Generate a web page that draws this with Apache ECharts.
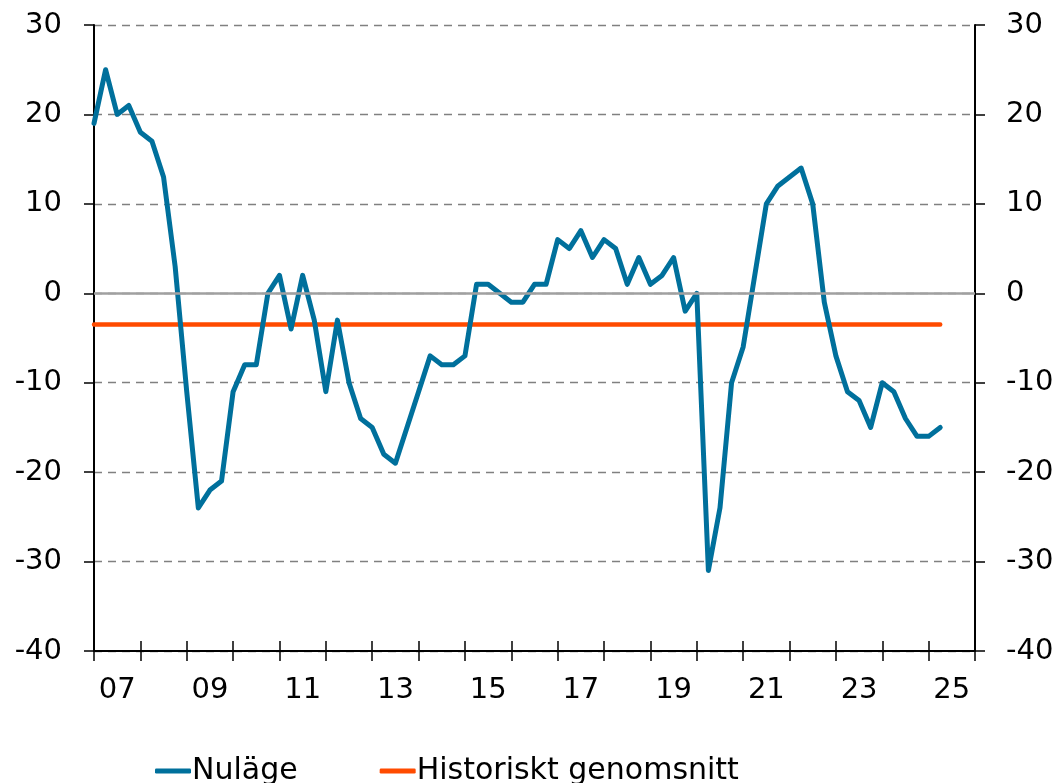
<!DOCTYPE html>
<html>
<head>
<meta charset="utf-8">
<script src="https://cdn.jsdelivr.net/npm/echarts@6/dist/echarts.min.js"></script>
<style>
  html, body { margin: 0; padding: 0; background: #fff; }
  #chart { width: 1061px; height: 783px; }
</style>
</head>
<body>
<div id="chart"></div>
<script>
var chart = echarts.init(document.getElementById('chart'));

// år på x-axeln (kvartalsdata 2007 K1 - 2025 K2)
var years = [2007, 2008, 2009, 2010, 2011, 2012, 2013, 2014, 2015, 2016,
    2017, 2018, 2019, 2020, 2021, 2022, 2023, 2024, 2025];
var yTicks = [-40, -30, -20, -10, 0, 10, 20, 30];

// Nuläge, nettotal per kvartal
var nulage = [
    19, 25, 20, 21, 18, 17, 13, 3,
    -11, -24, -22, -21, -11, -8, -8, 0,
    2, -4, 2, -3, -11, -3, -10, -14,
    -15, -18, -19, -15, -11, -7, -8, -8,
    -7, 1, 1, 0, -1, -1, 1, 1,
    6, 5, 7, 4, 6, 5, 1, 4,
    1, 2, 4, -2, 0, -31, -24, -10,
    -6, 2, 10, 12, 13, 14, 10, -1,
    -7, -11, -12, -15, -10, -11, -14, -16,
    -16, -15
];
var histAvg = -3.5;

var quarters = [];
years.forEach(function (y) {
    for (var q = 1; q <= 4; q++) quarters.push(y + 'K' + q);
});
quarters.push('2026K1'); // slutkant på axeln

var avgLine = nulage.map(function () { return histAvg; });

var font = 'Verdana, "DejaVu Sans", sans-serif';
var txt = { color: '#000', fontSize: 29, fontFamily: font };

var option = {
    animation: false,
    grid: { left: 94, right: 86, top: 25, bottom: 132 },
    legend: {
        left: 150,
        top: 751,
        itemGap: 82,
        itemWidth: 36,
        itemHeight: 5,
        icon: 'roundRect',
        textStyle: { color: '#000', fontSize: 30, fontFamily: font, padding: [0, 0, 0, -4] },
        data: ['Nuläge', 'Historiskt genomsnitt']
    },
    xAxis: [{
        type: 'category',
        data: quarters,
        boundaryGap: false,
        axisLine: { onZero: false, lineStyle: { color: '#000', width: 2 } },
        axisTick: {
            length: 10,
            interval: function (i) { return i % 4 === 0; },
            lineStyle: { color: '#000', width: 1.5 }
        },
        axisLabel: Object.assign({
            margin: 25,
            interval: function (i) { return i % 8 === 2; },
            formatter: function (v) { return v.slice(2, 4); }
        }, txt),
        splitLine: { show: false }
    }, {
        // tickmarkeringar inåt
        type: 'category',
        data: quarters,
        boundaryGap: false,
        position: 'bottom',
        axisLine: { show: false, onZero: false },
        axisTick: {
            inside: true,
            length: 10,
            interval: function (i) { return i % 4 === 0; },
            lineStyle: { color: '#000', width: 1.5 }
        },
        axisLabel: { show: false },
        splitLine: { show: false }
    }],
    yAxis: [{
        type: 'value',
        min: -40, max: 30, interval: 10,
        axisLine: { show: true, lineStyle: { color: '#000', width: 2 } },
        axisTick: { show: true, length: 10, lineStyle: { color: '#000', width: 1.5 } },
        axisLabel: Object.assign({ margin: 32 }, txt),
        splitLine: { show: true, lineStyle: { color: '#808080', type: [8, 6], width: 1.3 } }
    }, {
        type: 'value',
        position: 'right',
        min: -40, max: 30, interval: 10,
        axisLine: { show: true, lineStyle: { color: '#000', width: 2 } },
        axisTick: { show: true, length: 10, lineStyle: { color: '#000', width: 1.5 } },
        axisLabel: Object.assign({ margin: 31 }, txt),
        splitLine: { show: false }
    }],
    series: [{
        // nollinje
        type: 'line',
        data: [],
        z: 1,
        silent: true,
        markLine: {
            silent: true,
            symbol: 'none',
            label: { show: false },
            lineStyle: { color: '#a0a0a0', type: 'solid', width: 2.5 },
            data: [{ yAxis: 0 }]
        }
    }, {
        name: 'Historiskt genomsnitt',
        type: 'line',
        data: avgLine,
        z: 3,
        symbol: 'none',
        color: '#ff4b00',
        lineStyle: { color: '#ff4b00', width: 4.5, cap: 'round' }
    }, {
        name: 'Nuläge',
        type: 'line',
        data: nulage,
        z: 4,
        symbol: 'none',
        color: '#00709c',
        lineStyle: { color: '#00709c', width: 5, cap: 'round', join: 'round' }
    }]
};

chart.setOption(option);
</script>
</body>
</html>
